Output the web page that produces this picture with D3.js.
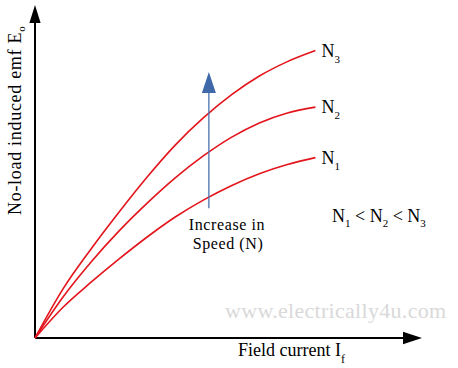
<!DOCTYPE html>
<html>
<head>
<meta charset="utf-8">
<script src="https://cdn.jsdelivr.net/npm/d3@7"></script>
<style>
  body { margin: 0; background: #fff; }
  text { font-family: "Liberation Serif", "Times New Roman", serif; fill: #000; }
</style>
</head>
<body>
<svg id="chart" width="458" height="368"></svg>
<script>
// field current (arbitrary units) and no-load emf for three speeds
const fieldCurrent = [0, 1, 2, 3, 4, 5, 6, 7, 8, 9, 10];
const emfN1 = [0, 1.11, 2.01, 2.85, 3.64, 4.36, 4.97, 5.49, 5.92, 6.25, 6.50];
const emfN2 = [0, 1.48, 2.74, 3.86, 4.86, 5.77, 6.56, 7.23, 7.75, 8.11, 8.32];
const emfN3 = [0, 1.77, 3.21, 4.54, 5.80, 6.95, 7.93, 8.76, 9.44, 9.96, 10.36];
const seriesNames = ["1", "2", "3"];
const seriesValues = [emfN1, emfN2, emfN3];

const serif = '"Liberation Serif", "Times New Roman", serif';
const svg = d3.select("#chart");

const x = d3.scaleLinear().domain([0, 13.8]).range([35, 422]);
const y = d3.scaleLinear().domain([0, 12]).range([338, 5]);

// axes with arrow heads
const xEnd = x.domain()[1], yEnd = y.domain()[1];
svg.append("line")
  .attr("x1", x(0)).attr("y1", y(0))
  .attr("x2", x(xEnd) - 18).attr("y2", y(0))
  .attr("stroke", "#000").attr("stroke-width", 2);
svg.append("path")
  .attr("d", `M${x(xEnd)},${y(0)} L${x(xEnd) - 19},${y(0) - 6.2} L${x(xEnd) - 19},${y(0) + 6.2} Z`)
  .attr("fill", "#000");
svg.append("line")
  .attr("x1", x(0)).attr("y1", y(0))
  .attr("x2", x(0)).attr("y2", y(yEnd) + 17)
  .attr("stroke", "#000").attr("stroke-width", 2);
svg.append("path")
  .attr("d", `M${x(0)},${y(yEnd)} L${x(0) - 5.6},${y(yEnd) + 18} L${x(0) + 5.6},${y(yEnd) + 18} Z`)
  .attr("fill", "#000");

// watermark
svg.append("text")
  .attr("x", 225).attr("y", 318)
  .attr("font-family", serif)
  .style("font-size", "22px")
  .style("letter-spacing", "0.3px")
  .style("fill", "#d9d9d9")
  .text("www.electrically4u.com");

// curves
const line = d3.line()
  .x((d, i) => x(fieldCurrent[i]))
  .y(d => y(d))
  .curve(d3.curveMonotoneX);

seriesValues.forEach(function(vals){
  svg.append("path")
    .datum(vals)
    .attr("d", line)
    .attr("fill", "none")
    .attr("stroke", "#e3141b")
    .attr("stroke-width", 1.6);
});

// curve labels
seriesValues.forEach(function(vals, i){
  const last = vals.length - 1;
  const t = svg.append("text")
    .attr("x", x(fieldCurrent[last]) + 6)
    .attr("y", y(vals[last]) + 6)
    .attr("font-family", serif)
    .style("font-size", "18px");
  t.append("tspan").text("N");
  t.append("tspan").attr("dy", 6).style("font-size", "11px").text(seriesNames[i]);
});

// speed arrow
const arrowX = 6.2, arrowFrom = 4.68, arrowTo = 9.59;
svg.append("line")
  .attr("x1", x(arrowX)).attr("y1", y(arrowFrom))
  .attr("x2", x(arrowX)).attr("y2", y(arrowTo) + 20)
  .attr("stroke", "#4a72b0").attr("stroke-width", 1.3);
svg.append("path")
  .attr("d", `M${x(arrowX)},${y(arrowTo)} L${x(arrowX) - 7},${y(arrowTo) + 21} L${x(arrowX) + 7},${y(arrowTo) + 21} Z`)
  .attr("fill", "#3f69a9");

svg.append("text")
  .attr("x", 227).attr("y", 230)
  .attr("text-anchor", "middle")
  .attr("font-family", serif)
  .style("font-size", "16px")
  .style("letter-spacing", "0.6px")
  .text("Increase in");
svg.append("text")
  .attr("x", 228).attr("y", 249)
  .attr("text-anchor", "middle")
  .attr("font-family", serif)
  .style("font-size", "16px")
  .style("letter-spacing", "0.6px")
  .text("Speed (N)");

// relation
const rel = svg.append("text").attr("x", 332).attr("y", 222)
  .attr("font-family", serif).style("font-size", "18px");
seriesNames.forEach(function(s, i){
  rel.append("tspan").attr("dy", i === 0 ? 0 : -5).text((i > 0 ? " < " : "") + "N");
  rel.append("tspan").attr("dy", 5).style("font-size", "11px").text(s);
});

// axis titles
const xt = svg.append("text").attr("x", 238).attr("y", 356)
  .attr("font-family", serif).style("font-size", "18px");
xt.append("tspan").text("Field current I");
xt.append("tspan").attr("dy", 7).style("font-size", "12px").text("f");

const yt = svg.append("text")
  .attr("transform", "translate(21,215) rotate(-90)")
  .attr("font-family", serif)
  .style("font-size", "18px")
  .style("letter-spacing", "0.7px");
yt.append("tspan").text("No-load induced emf E");
yt.append("tspan").attr("dy", 4).style("font-size", "11px").text("o");
</script>
</body>
</html>
